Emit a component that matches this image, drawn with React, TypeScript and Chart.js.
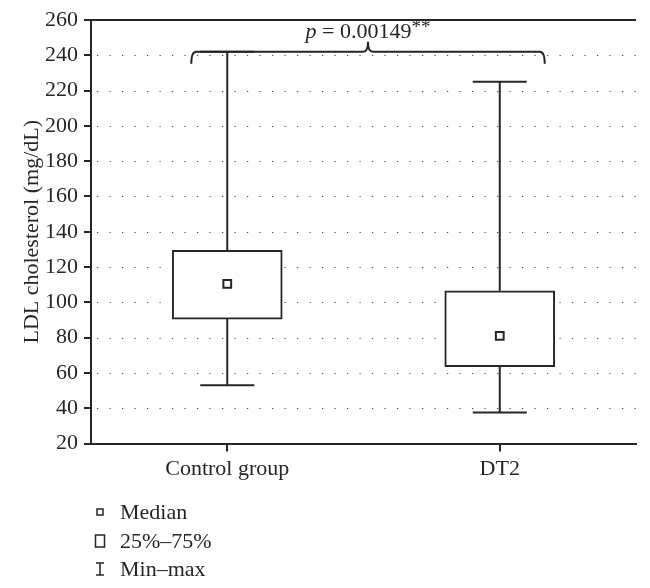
import React, { useEffect, useRef } from "react";
import { Chart, registerables } from "chart.js";

Chart.register(...registerables);

const categories = ["Control group", "DT2"];
const mins = [53, 37.5];
const q1s = [90.5, 63.5];
const medians = [110.5, 81];
const q3s = [129.5, 106.5];
const maxs = [242, 225];
const yMin = 20;
const yMax = 260;
const yStep = 20;
const yTitle = "LDL cholesterol (mg/dL)";
const pText = " = 0.00149";
const pStars = "**";
const bracketValue = 242;
const bracketFrom = -0.132;
const bracketTo = 1.165;
const legendLabels = ["Median", "25%\u201375%", "Min\u2013max"];

const INK = "#262626";
const FONT = "'Liberation Serif', 'Times New Roman', serif";

const boxPlugin = {
  id: "boxExtras",
  beforeDatasetsDraw(chart: any) {
    const { ctx, chartArea } = chart;
    const x = chart.scales.x;
    const y = chart.scales.y;
    ctx.save();
    // dotted grid lines
    ctx.strokeStyle = "#444";
    ctx.lineWidth = 1.2;
    ctx.setLineDash([1.2, 11.3]);
    y.ticks.forEach((t: any) => {
      if (t.value <= yMin || t.value >= yMax) return;
      const py = Math.round(y.getPixelForValue(t.value)) + 0.5;
      ctx.beginPath();
      ctx.moveTo(chartArea.left + 6, py);
      ctx.lineTo(chartArea.right, py);
      ctx.stroke();
    });
    ctx.setLineDash([]);
    // whiskers
    ctx.strokeStyle = INK;
    ctx.lineWidth = 2;
    categories.forEach((_, i) => {
      const px = x.getPixelForValue(i);
      const capHalf = 27;
      const pMax = y.getPixelForValue(maxs[i]);
      const pMin = y.getPixelForValue(mins[i]);
      const pQ1 = y.getPixelForValue(q1s[i]);
      const pQ3 = y.getPixelForValue(q3s[i]);
      ctx.beginPath();
      ctx.moveTo(px, pQ3);
      ctx.lineTo(px, pMax);
      ctx.moveTo(px - capHalf, pMax);
      ctx.lineTo(px + capHalf, pMax);
      ctx.moveTo(px, pQ1);
      ctx.lineTo(px, pMin);
      ctx.moveTo(px - capHalf, pMin);
      ctx.lineTo(px + capHalf, pMin);
      ctx.stroke();
    });
    ctx.restore();
  },
  afterDraw(chart: any) {
    const { ctx, chartArea } = chart;
    const x = chart.scales.x;
    const y = chart.scales.y;
    ctx.save();
    // top border
    ctx.strokeStyle = INK;
    ctx.lineWidth = 2;
    const top = y.getPixelForValue(yMax);
    ctx.beginPath();
    ctx.moveTo(chartArea.left - 1, top);
    ctx.lineTo(chartArea.right, top);
    ctx.stroke();

    // bracket
    const xl = x.getPixelForValue(bracketFrom);
    const xr = x.getPixelForValue(bracketTo);
    const xm = (xl + xr) / 2;
    const yb = y.getPixelForValue(bracketValue);
    const drop = 12;
    const r = 5;
    const peak = 10;
    ctx.lineWidth = 2;
    ctx.beginPath();
    ctx.moveTo(xl, yb + drop);
    ctx.quadraticCurveTo(xl, yb, xl + r, yb);
    ctx.lineTo(xm - 5, yb);
    ctx.quadraticCurveTo(xm, yb, xm, yb - peak);
    ctx.quadraticCurveTo(xm, yb, xm + 5, yb);
    ctx.lineTo(xr - r, yb);
    ctx.quadraticCurveTo(xr, yb, xr, yb + drop);
    ctx.stroke();

    // p-value text
    ctx.fillStyle = INK;
    ctx.textBaseline = "alphabetic";
    ctx.textAlign = "left";
    const italic = "italic 22px " + FONT;
    const normal = "22px " + FONT;
    const small = "19px " + FONT;
    ctx.font = italic;
    const wp = ctx.measureText("p").width;
    ctx.font = normal;
    const wt = ctx.measureText(pText).width;
    ctx.font = small;
    const ws = ctx.measureText(pStars).width;
    const total = wp + wt + ws;
    let tx = xm - total / 2;
    const ty = yb - 14;
    ctx.font = italic;
    ctx.fillText("p", tx, ty);
    tx += wp;
    ctx.font = normal;
    ctx.fillText(pText, tx, ty);
    tx += wt;
    ctx.font = small;
    ctx.fillText(pStars, tx, ty - 5);

    // legend
    const lx = 100;
    const textX = 120;
    const rows = [512, 541, 569];
    ctx.font = "22px " + FONT;
    ctx.textBaseline = "middle";
    ctx.lineWidth = 1.5;
    ctx.strokeStyle = INK;
    ctx.strokeRect(lx - 3, rows[0] - 3, 6, 6);
    ctx.strokeRect(lx - 4.5, rows[1] - 6, 9, 12);
    ctx.beginPath();
    ctx.moveTo(lx, rows[2] - 6);
    ctx.lineTo(lx, rows[2] + 6);
    ctx.moveTo(lx - 4, rows[2] - 6);
    ctx.lineTo(lx + 4, rows[2] - 6);
    ctx.moveTo(lx - 4, rows[2] + 6);
    ctx.lineTo(lx + 4, rows[2] + 6);
    ctx.stroke();
    legendLabels.forEach((lab, i) => ctx.fillText(lab, textX, rows[i] + 1));
    ctx.restore();
  },
};

export default function App() {
  const ref = useRef<HTMLCanvasElement>(null);
  useEffect(() => {
    if (!ref.current) return;
    const chart = new Chart(ref.current, {
      type: "bar",
      data: {
        labels: categories,
        datasets: [
          {
            type: "bar",
            label: "25%\u201375%",
            data: categories.map((_, i) => [q1s[i], q3s[i]]) as any,
            backgroundColor: "#ffffff",
            borderColor: INK,
            borderWidth: 2,
            borderSkipped: false,
            barThickness: 110,
            grouped: false,
            order: 2,
          } as any,
          {
            type: "line",
            label: "Median",
            data: medians,
            showLine: false,
            pointStyle: "rect",
            pointRadius: 5.5,
            pointBorderWidth: 2,
            pointBorderColor: INK,
            pointBackgroundColor: "#ffffff",
            order: 1,
          } as any,
        ],
      },
      options: {
        animation: false,
        responsive: true,
        maintainAspectRatio: false,
        layout: { padding: { left: 0, top: 20, right: 14, bottom: 0 } },
        plugins: { legend: { display: false }, tooltip: { enabled: false } },
        scales: {
          x: {
            type: "category",
            offset: true,
            afterFit: (s: any) => {
              s.height = 144.5;
            },
            grid: {
              display: true,
              drawOnChartArea: false,
              drawTicks: true,
              tickLength: 8,
              offset: false,
              color: INK,
              lineWidth: 2,
            },
            border: { display: true, color: INK, width: 2 },
            ticks: {
              color: INK,
              padding: 5,
              font: { family: FONT, size: 22 },
            },
          },
          y: {
            type: "linear",
            min: yMin,
            max: yMax,
            afterFit: (s: any) => {
              s.width = 91;
            },
            ticks: {
              stepSize: yStep,
              color: INK,
              padding: 6,
              font: { family: FONT, size: 22 },
            },
            grid: {
              display: true,
              drawOnChartArea: false,
              drawTicks: true,
              tickLength: 7,
              color: INK,
              lineWidth: 2,
            },
            border: { display: true, color: INK, width: 2 },
            title: {
              display: true,
              text: yTitle,
              color: INK,
              font: { family: FONT, size: 22 },
              padding: { top: 19, bottom: 0 },
            },
          },
        },
      },
      plugins: [boxPlugin],
    });
    return () => chart.destroy();
  }, []);
  return (
    <div
      style={{
        position: "fixed",
        left: 0,
        top: 0,
        width: 650,
        height: 588,
        background: "#ffffff",
      }}
    >
      <canvas ref={ref} />
    </div>
  );
}
